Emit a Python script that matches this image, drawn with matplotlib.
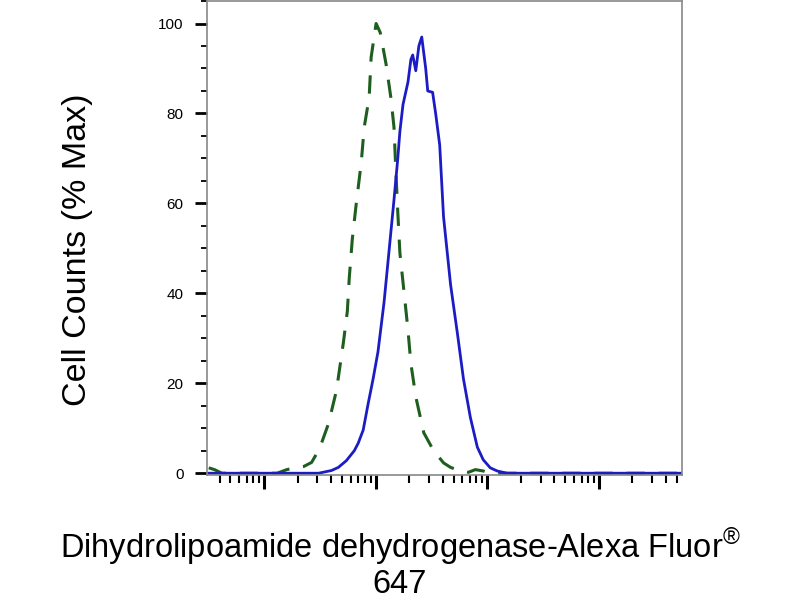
import matplotlib
matplotlib.use("Agg")
import matplotlib.pyplot as plt
from matplotlib.ticker import LogLocator, MultipleLocator, NullFormatter

plt.rcParams['font.family'] = ['Liberation Sans', 'DejaVu Sans']
plt.rcParams['mathtext.fontset'] = 'custom'
plt.rcParams['mathtext.rm'] = 'Liberation Sans'

# controle isotipo (verde tracejado)
controle_x = [3.2, 3.6, 4.2, 13.1, 16.0, 18.9, 22.7, 26.7, 31.5, 37.8, 44.6, 51.4,
              55.8, 58.1, 61.8, 67.1, 74.3, 79.1, 87.5, 91.2, 101, 110, 124, 137,
              146, 152, 158, 165, 179, 195, 207, 229, 270, 331, 406, 469, 575,
              678, 782, 920, 1064, 54000]
controle_y = [1.2, 0.8, 0, 0, 0.8, 1.2, 1.5, 2.4, 5.5, 11, 18.4, 29,
              36, 43.5, 52, 60, 69, 77, 83.5, 92.5, 100, 98, 91, 83.5,
              77, 67, 58, 49, 40.7, 31.8, 24.4, 17, 9, 5, 2.3, 1.3, 0.5,
              0.2, 0.8, 0.5, 0, 0]

# amostra marcada (azul)
amostra_x = [3.2, 30.8, 40.2, 46.4, 54.7, 64.4, 69.9, 77.4, 85.8, 95.0, 105, 119,
             132, 146, 158, 165, 176, 195, 207, 215, 229, 244, 259, 281, 293,
             324, 345, 375, 406, 469, 541, 612, 706, 815, 920, 1064, 1227, 1506,
             54000]
amostra_y = [0, 0, 0.6, 1.3, 2.8, 5, 6.7, 9.6, 15.5, 21, 27, 38,
             49.5, 60.7, 70, 76, 82, 87, 92, 93, 89.5, 95, 97, 90, 85,
             84.7, 80, 73, 57, 42, 31, 21, 12.4, 5.8, 3.0, 1.2, 0.5, 0,
             0]

fig = plt.figure(figsize=(8, 6), dpi=100)
ax = fig.add_axes([0.259, 0.2083, 0.594, 0.79])

ax.plot(controle_x, controle_y, color="#1e5e1e", linewidth=2.2,
        linestyle=(0, (6, 4.5)))
ax.plot(amostra_x, amostra_y, color="#1c1cc4", linewidth=2.0)

ax.set_xscale("log")
ax.set_xlim(3.1, 56000)
ax.set_ylim(-0.4, 105)

ax.xaxis.set_major_locator(LogLocator(base=10, numticks=10))
ax.xaxis.set_minor_locator(LogLocator(base=10, subs=range(2, 10), numticks=20))
ax.xaxis.set_major_formatter(NullFormatter())
ax.xaxis.set_minor_formatter(NullFormatter())

ax.set_yticks([0, 20, 40, 60, 80, 100])
ax.yaxis.set_minor_locator(MultipleLocator(5))

ax.tick_params(axis="y", which="major", direction="out", length=9, width=2,
               labelsize=11, pad=8)
ax.tick_params(axis="y", which="minor", direction="out", length=4, width=1.3)
ax.tick_params(axis="x", which="major", direction="out", length=10, width=2.2)
ax.tick_params(axis="x", which="minor", direction="out", length=6, width=1.5)

for lado in ax.spines.values():
    lado.set_color("#888888")
    lado.set_linewidth(1.2)

fig.text(0.097, 0.583, "Cell Counts (% Max)", rotation=90, fontsize=24.5,
         ha="center", va="center")
fig.text(0.5, 0.062, "Dihydrolipoamide dehydrogenase-Alexa Fluor$^{\u00ae}$\n647",
         fontsize=23.5, ha="center", va="center", multialignment="center",
         linespacing=1.05)

fig.savefig("out.png", dpi=100)
